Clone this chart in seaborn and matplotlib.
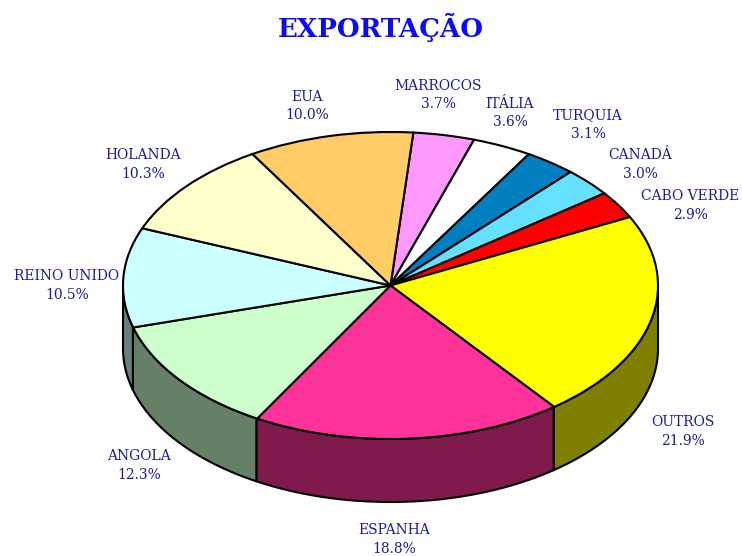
import numpy as np
import seaborn as sns
import matplotlib.pyplot as plt
from matplotlib.patches import Polygon

names = ['MARROCOS', 'ITÁLIA', 'TURQUIA', 'CANADÁ', 'CABO VERDE', 'OUTROS',
         'ESPANHA', 'ANGOLA', 'REINO UNIDO', 'HOLANDA', 'EUA']
values = [3.7, 3.6, 3.1, 3.0, 2.9, 21.9, 18.8, 12.3, 10.5, 10.3, 10.0]
top_colors = ['#FF99FF', '#FFFFFF', '#0080C0', '#66E0FF', '#FF0000', '#FFFF00',
              '#FF3399', '#CCFFCC', '#CCFFFF', '#FFFFCC', '#FFCC66']

sns.set_theme(style='white')
plt.rcParams['font.family'] = ['DejaVu Serif']

W, H = 742, 556
CX, CY = 390.5, 285.5  # pie centre, pixels from top left
RX, RY = 267.5, 153.5  # ellipse radii of the tilted top
DEPTH = 63             # height of the wall, pixels
START = 4.9            # first slice edge, degrees clockwise from top
SQUASH = RY / RX
TEXT = '#1A1AA6'

# centre of each two line label, pixels
label_xy = [(438, 95), (510, 113), (588, 124.5), (640, 164.5), (690, 205.5), (683, 431.5),
            (394, 539.5), (139, 465.5), (67, 285.5), (143, 164.5), (307, 106)]

fig = plt.figure(figsize=(W / 100, H / 100), dpi=100)
ax = fig.add_axes([0, 0, 1, 1])


def py(y):
    # screen row to data y, the pie stays round in data and squashed on screen
    return (H - y) / SQUASH


# top of the pie
ax.pie(values, colors=top_colors, radius=RX, center=(CX, py(CY)), counterclock=False,
       startangle=90 - START, wedgeprops={'edgecolor': 'black', 'linewidth': 1.5},
       frame=False, normalize=True)
ax.set_aspect('auto')
ax.set_xlim(0, W)
ax.set_ylim(0, H / SQUASH)
ax.set_axis_off()

# wall below the front half
edges = START + np.cumsum([0] + values) * 3.6
for i in range(len(values)):
    a0, a1 = max(edges[i], 90), min(edges[i + 1], 270)
    if a0 >= a1:
        continue
    t = np.radians(np.linspace(a0, a1, 80))
    x = CX + RX * np.sin(t)
    y = py(CY) + RX * np.cos(t)
    pts = np.r_[np.c_[x, y], np.c_[x, y - DEPTH / SQUASH][::-1]]
    dark = tuple(c * 0.5 for c in plt.matplotlib.colors.to_rgb(top_colors[i]))
    ax.add_patch(Polygon(pts, closed=True, facecolor=dark, edgecolor='black',
                         linewidth=1.5, joinstyle='round', zorder=0.5))

for name, val, (lx, ly) in zip(names, values, label_xy):
    ax.text(lx, py(ly), f'{name}\n{val:.1f}%', ha='center', va='center', color=TEXT,
            fontsize=10.0, linespacing=1.45)

ax.text(381, py(27), 'EXPORTAÇÃO', ha='center', va='center', color='#0A0AFF',
        fontsize=18.8, fontweight='bold')

fig.savefig('out.png', dpi=100)
